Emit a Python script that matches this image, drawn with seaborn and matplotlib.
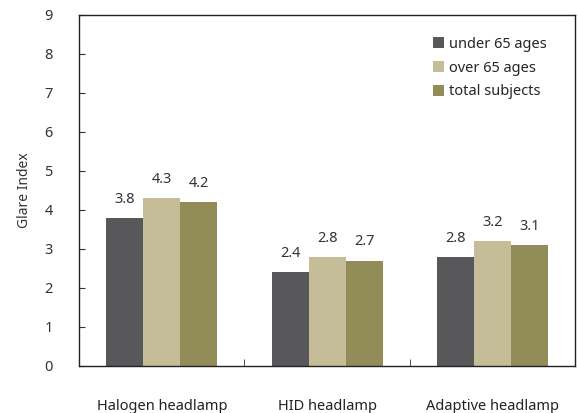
import matplotlib
matplotlib.use("Agg")
import matplotlib.pyplot as plt
import seaborn as sns
import pandas as pd

categories = ["Halogen headlamp", "HID headlamp", "Adaptive headlamp"]
series = ["under 65 ages", "over 65 ages", "total subjects"]
under65 = [3.8, 2.4, 2.8]
over65 = [4.3, 2.8, 3.2]
total = [4.2, 2.7, 3.1]
colors = ["#58585A", "#C4BD98", "#928C58"]

rows = []
for s, vals in zip(series, [under65, over65, total]):
    for c, v in zip(categories, vals):
        rows.append({"category": c, "series": s, "value": v})
df = pd.DataFrame(rows)

sns.set_style("white")
plt.rcParams["font.family"] = ["Noto Sans", "DejaVu Sans"]

fig = plt.figure(figsize=(5.78, 4.13), dpi=100)
ax = fig.add_axes([0.137, 0.114, 0.858, 0.850])
sns.barplot(data=df, x="category", y="value", hue="series", palette=colors,
            width=0.67, saturation=1, ax=ax, edgecolor="none")

for cont in ax.containers:
    ax.bar_label(cont, fmt="%.1f", padding=8, fontsize=10.5, color="#333333")

ax.set_ylim(0, 9)
ax.set_xlim(-0.5, 2.5)
ax.set_yticks(range(0, 10))
ax.set_xticks([0.5, 1.5], minor=True)
ax.set_xlabel("")
ax.set_ylabel("Glare Index", fontsize=10, color="#333333", labelpad=9)
ax.tick_params(axis="x", which="major", length=0, labelsize=10.5, pad=24, colors="#222222")
ax.tick_params(axis="x", which="minor", direction="in", length=5, bottom=True, color="#333333")
ax.tick_params(axis="y", direction="in", length=4, left=True, labelsize=10.5, pad=19, colors="#333333")
for sp in ax.spines.values():
    sp.set_visible(True)
    sp.set_color("#222222")
    sp.set_linewidth(1.0)

leg = ax.legend(loc="upper right", bbox_to_anchor=(0.97, 0.975), frameon=False,
                fontsize=10.5, handlelength=0.8, handleheight=0.8, handletextpad=0.35,
                labelspacing=0.6, title=None)

fig.savefig("out.png", dpi=100)
